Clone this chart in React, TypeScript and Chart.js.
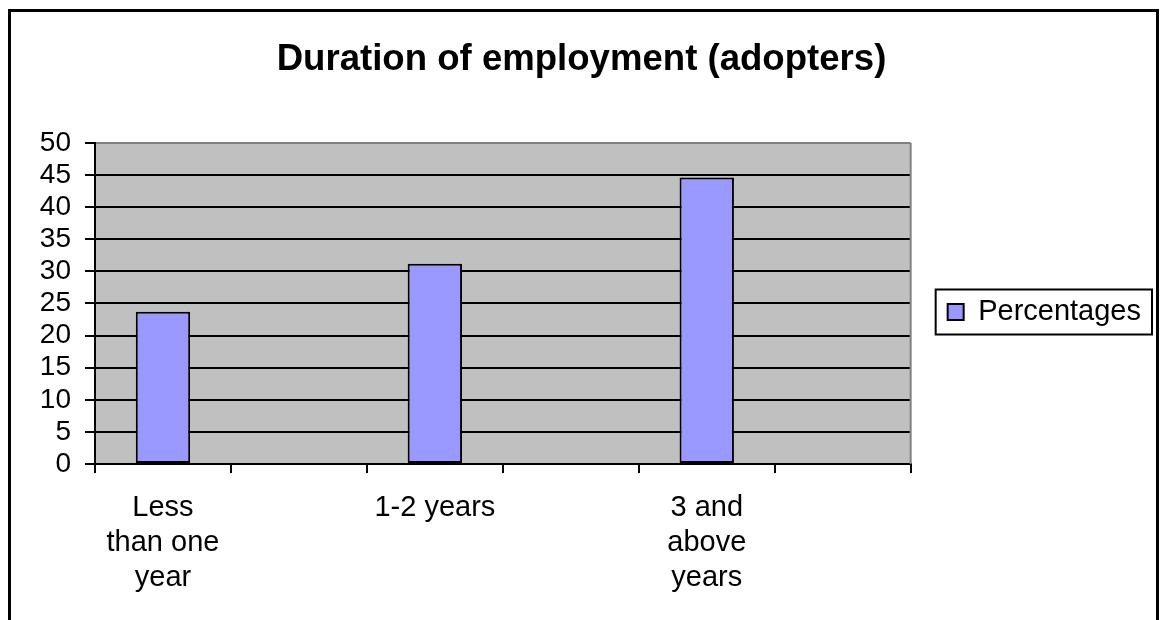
import React, { useEffect, useRef } from "react";
import { Chart, registerables } from "chart.js";

Chart.register(...registerables);

const TITLE = "Duration of employment (adopters)";
const SERIES_NAME = "Percentages";
const CATEGORIES: (string | string[])[] = [
  ["Less", "than one", "year"],
  "",
  "1-2 years",
  "",
  ["3 and", "above", "years"],
  "",
];
const VALUES: (number | null)[] = [23.7, null, 31.2, null, 44.6, null];
const Y_MIN = 0;
const Y_MAX = 50;
const Y_STEP = 5;

const FONT = "Arial, 'Liberation Sans', Helvetica, sans-serif";
const BAR_COLOR = "#9999FF";
const PLOT_BG = "#C0C0C0";

const framePlugin = {
  id: "excelFrame",
  beforeDraw(chart: any) {
    const { ctx, chartArea: a } = chart;
    ctx.save();
    ctx.fillStyle = "#ffffff";
    ctx.fillRect(0, 0, chart.width, chart.height);
    ctx.strokeStyle = "#000000";
    ctx.lineWidth = 3;
    ctx.strokeRect(9.5, 10.5, 1148, 700);
    ctx.fillStyle = PLOT_BG;
    ctx.fillRect(a.left, a.top, a.right - a.left, a.bottom - a.top);
    ctx.restore();
  },
  afterDraw(chart: any) {
    const { ctx, chartArea: a } = chart;
    ctx.save();
    ctx.strokeStyle = "#808080";
    ctx.lineWidth = 2;
    ctx.beginPath();
    ctx.moveTo(a.right, a.top);
    ctx.lineTo(a.right, a.bottom);
    ctx.stroke();
    const lg = chart.legend;
    if (lg && lg.legendHitBoxes && lg.legendHitBoxes.length) {
      const hb = lg.legendHitBoxes[0];
      const cy = hb.top + hb.height / 2;
      ctx.strokeStyle = "#000000";
      ctx.lineWidth = 2;
      ctx.strokeRect(hb.left - 12, cy - 22.5, hb.width + 23, 45);
    }
    ctx.restore();
  },
};

export default function App() {
  const ref = useRef<HTMLCanvasElement | null>(null);

  useEffect(() => {
    if (!ref.current) return;
    const chart = new Chart(ref.current, {
      type: "bar",
      data: {
        labels: CATEGORIES,
        datasets: [
          {
            label: SERIES_NAME,
            data: VALUES,
            backgroundColor: BAR_COLOR,
            borderColor: "#000000",
            borderWidth: 2,
            borderSkipped: false,
            categoryPercentage: 1,
            barPercentage: 0.4,
          },
        ],
      },
      options: {
        responsive: false,
        animation: false,
        devicePixelRatio: 1,
        layout: { padding: { left: 12, right: 9, top: 10, bottom: 6 } },
        plugins: {
          title: {
            display: true,
            text: TITLE,
            color: "#000000",
            font: { family: FONT, size: 36.6, weight: "bold" },
            padding: { top: 28, bottom: 61 },
          },
          legend: {
            display: true,
            position: "right",
            labels: {
              color: "#000000",
              font: { family: FONT, size: 29 },
              boxWidth: 16,
              boxHeight: 16,
              padding: 37,
            },
          },
          tooltip: { enabled: false },
        },
        scales: {
          x: {
            type: "category",
            offset: true,
            afterFit: (s: any) => {
              s.height = 150;
            },
            grid: {
              display: true,
              offset: true,
              drawOnChartArea: false,
              drawTicks: true,
              tickLength: 9,
              tickColor: "#000000",
              lineWidth: 2,
            },
            border: { display: true, color: "#000000", width: 2 },
            ticks: {
              autoSkip: false,
              maxRotation: 0,
              minRotation: 0,
              padding: 18,
              color: "#000000",
              font: { family: FONT, size: 29, lineHeight: 1.2 },
            },
          },
          y: {
            min: Y_MIN,
            max: Y_MAX,
            afterFit: (s: any) => {
              s.width = 83;
            },
            grid: {
              color: (c: any) => (c.tick && c.tick.value === Y_MAX ? "#808080" : "#000000"),
              tickColor: "#000000",
              lineWidth: 2,
              drawTicks: true,
              tickLength: 10,
            },
            border: { display: true, color: "#000000", width: 2 },
            ticks: {
              stepSize: Y_STEP,
              autoSkip: false,
              padding: 14,
              color: "#000000",
              font: { family: FONT, size: 28 },
            },
          },
        },
      },
      plugins: [framePlugin],
    } as any);
    return () => chart.destroy();
  }, []);

  return (
    <div style={{ position: "absolute", left: 0, top: 0, width: 1160, height: 620 }}>
      <canvas ref={ref} width={1160} height={620} />
    </div>
  );
}
